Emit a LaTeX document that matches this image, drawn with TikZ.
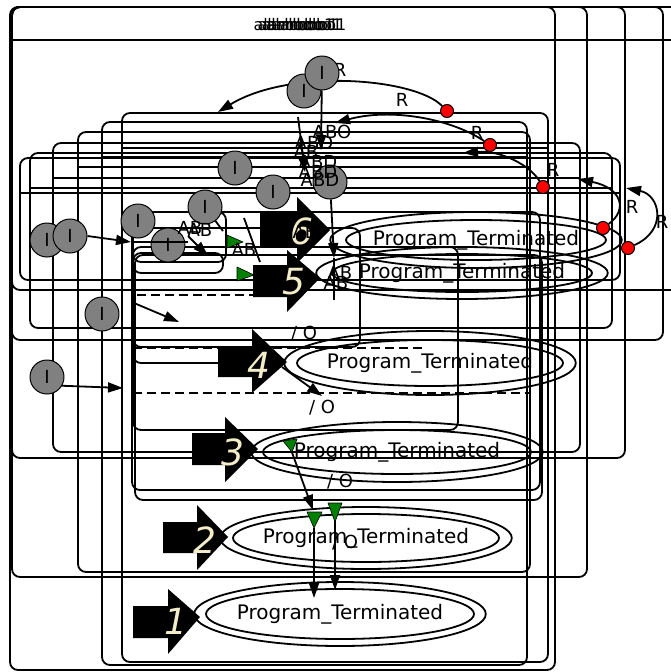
\documentclass[tikz,border=0pt]{standalone}
\usepackage{fontspec}
\setmainfont{DejaVu Sans}
\usetikzlibrary{shapes.geometric,arrows.meta}
\begin{document}
\begin{tikzpicture}[x=1pt,y=-1pt,line width=1.8pt,line join=round,
  box/.style={draw,rounded corners=8pt},
  ini/.style={circle,draw,line width=1pt,fill=gray,minimum size=34pt,inner sep=0pt,font=\fontsize{18}{18}\selectfont},
  cond/.style={circle,draw,line width=1pt,fill=red,minimum size=13pt,inner sep=0pt},
  arr/.style={-{Triangle[length=15pt,width=10pt]}},
  lab/.style={inner sep=0pt,font=\fontsize{18}{20}\selectfont},
  term/.style={ellipse,draw,inner sep=0pt,font=\fontsize{20}{24}\selectfont},
  num/.style={inner sep=0pt,text=numcol,font=\fontsize{36}{40}\selectfont\itshape},
  grn/.style={fill=green!50!black,draw=black,line width=0.6pt},
  dsh/.style={dash pattern=on 9pt off 5pt}]
\definecolor{numcol}{HTML}{F3ECC8}
\useasboundingbox (0,0) rectangle (671,672);
\fill[white] (0,0) rectangle (671,672);
\begin{scope}
\clip (0,0) rectangle (671,672);
% outer frames
\draw[box] (10,7) rectangle (555,670);
\draw[box] (12,7) rectangle (587,577);
\draw[box] (12,7) rectangle (625,458);
\draw[box] (12,7) rectangle (663,340);
\draw[box] (12,7) rectangle (700,290);
\draw (10,40) -- (671,40);
\foreach \dx in {0,4,8,12}{
  \node[inner sep=0pt,font=\fontsize{16}{18}\selectfont] (ttl\dx) at (294+\dx,25) {alarbobo1};
}
% inner frames
\draw[box] (122,113) rectangle (548,662); \draw (122,148) -- (548,148);
\draw[box] (102,122) rectangle (527,665); \draw (102,157) -- (527,157);
\draw[box] (78,132) rectangle (530,572);  \draw (78,167) -- (530,167);
\draw[box] (53,143) rectangle (580,452);  \draw (53,178) -- (580,178);
\draw[box] (30,153) rectangle (612,328);  \draw (30,188) -- (612,188);
\draw[box] (20,158) rectangle (620,280);  \draw (20,193) -- (620,193);
\draw[box] (132,212) rectangle (540,490);
\draw[box] (135,255) rectangle (542,500);
\draw[box] (133,247) rectangle (458,430);
\draw[box] (133,212) rectangle (226,262);
\draw[box] (133,253) rectangle (223,273);
\draw[box] (133,228) rectangle (360,347);
\draw[rounded corners=8pt] (133,320) -- (133,363) -- (220,363);
\draw[dsh] (137,295) -- (253,295);
\draw[dsh] (133,348) -- (425,348);
\draw[dsh] (133,393) -- (530,393);
% terminal states
\node[term,minimum width=284pt,minimum height=64pt] (t1) at (340,614) {Program\_Terminated};
\draw (t1.center) ellipse [x radius=134, y radius=25];
\node[term,minimum width=284pt,minimum height=62pt] (t2) at (366,538) {Program\_Terminated};
\draw (t2.center) ellipse [x radius=133, y radius=24];
\node[term,minimum width=280pt,minimum height=60pt] (t3) at (397,452) {Program\_Terminated};
\draw (t3.center) ellipse [x radius=134, y radius=22];
\node[term,minimum width=286pt,minimum height=64pt] (t4) at (430,363) {Program\_Terminated};
\draw (t4.center) ellipse [x radius=133, y radius=23];
\node[term,minimum width=280pt,minimum height=52pt] (t5) at (462,273) {Program\_Terminated};
\draw (t5.center) ellipse [x radius=130, y radius=19];
\node[term,minimum width=280pt,minimum height=56pt] (t6) at (476,240) {Program\_Terminated};
\draw (t6.center) ellipse [x radius=130, y radius=20];
% transitions (lower)
\coordinate (g3) at (290,447);
\coordinate (g4) at (314,528);
\coordinate (g5) at (335,520);
\coordinate (e1) at (314,598);
\coordinate (e2) at (335,590);
\coordinate (e3) at (313,510);
\draw[arr] (g4) -- (e1);
\draw[arr] (g5) -- (e2);
\draw[arr] (g3) -- (e3);
\coordinate (s4) at (282,367); \coordinate (e4) at (322,396);
\draw[arr] (s4) -- (e4);
\node[lab] (o1) at (345,543) {/ O};
\node[lab] (o2) at (340,482) {/ O};
\node[lab] (o3) at (322,408) {/ O};
\node[lab] (o4) at (304,334) {/ O};
% green triangles
\fill[grn] (307,512) -- (322,512) -- (314,528) -- cycle;
\fill[grn] (328,503) -- (342,503) -- (335,522) -- cycle;
\fill[grn] (283,441) -- (297,439) -- (292,452) -- cycle;
\fill[grn] (227,235) -- (227,248) -- (243,242) -- cycle;
\fill[grn] (237,267) -- (237,281) -- (254,275) -- cycle;
% fat numbered arrows
\fill (133,606) -- (168,606) -- (168,589) -- (200,617) -- (168,654) -- (168,638) -- (133,638) -- cycle;
\fill (163,522) -- (197,522) -- (197,505) -- (228,537) -- (197,570) -- (197,553) -- (163,553) -- cycle;
\fill (192,433) -- (225,433) -- (225,417) -- (258,449) -- (225,482) -- (225,465) -- (192,465) -- cycle;
\fill (218,346) -- (252,346) -- (252,329) -- (287,362) -- (252,393) -- (252,377) -- (218,377) -- cycle;
\fill (253,265) -- (287,265) -- (287,250) -- (320,278) -- (287,312) -- (287,297) -- (253,297) -- cycle;
\fill (260,213) -- (297,213) -- (297,197) -- (330,230) -- (297,263) -- (297,247) -- (260,247) -- cycle;
\node[num] (n1) at (176,621) {1};
\node[num] (n2) at (205,540) {2};
\node[num] (n3) at (233,452) {3};
\node[num] (n4) at (259,365) {4};
\node[num] (n5) at (294,282) {5};
\node[num] (n6) at (302,231) {6};
% upper transitions
\node[cond] (r1) at (447,111) {};
\node[cond] (r2) at (490,145) {};
\node[cond] (r3) at (543,187) {};
\node[cond] (r4) at (603,228) {};
\node[cond] (r5) at (628,248) {};
\coordinate (q1) at (218,112);
\coordinate (q2) at (335,123);
\coordinate (q3) at (463,153);
\coordinate (q4) at (578,179);
\coordinate (q5) at (626,188);
\draw[arr] (r1) .. controls (415,78) and (290,68) .. (q1);
\draw[arr] (r2) .. controls (450,118) and (390,108) .. (q2);
\draw[arr] (r3) .. controls (530,165) and (500,150) .. (q3);
\draw[arr] (r4) .. controls (628,210) and (622,188) .. (q4);
\draw[arr] (r5) .. controls (668,230) and (660,195) .. (q5);
\node[lab] (lr1) at (402,100) {R};
\node[lab] (lr0) at (340,70) {R};
\node[lab] (lr2) at (477,133) {R};
\node[lab] (lr3) at (553,170) {R};
\node[lab] (lr4) at (632,207) {R};
\node[lab] (lr5) at (662,222) {R};
% initial states
\node[ini] (i2) at (304,91) {I};
\node[ini] (i1) at (322,73) {I};
\node[ini] (i3) at (47,240) {I};
\node[ini] (i4) at (70,236) {I};
\node[ini] (i5) at (138,221) {I};
\node[ini] (i6) at (168,245) {I};
\node[ini] (i7) at (205,207) {I};
\node[ini] (i8) at (235,168) {I};
\node[ini] (i9) at (273,192) {I};
\node[ini] (i10) at (330,182) {};
\node[ini] (i11) at (102,314) {I};
\node[ini] (i12) at (47,377) {I};
\coordinate (p1) at (321,150);
\coordinate (p2a) at (298,117);
\coordinate (p2) at (305,172);
\draw[arr] (i1) -- (p1);
\draw[arr] (p2a) -- (p2);
\coordinate (p10) at (334,258);
\coordinate (p10b) at (334,300);
\draw[arr] (i10) -- (p10);
\draw (p10) -- (p10b);
\coordinate (p4) at (131,242);
\draw[arr] (i4.east) -- (p4);
\coordinate (p4b) at (188,242);
\draw (p4) -- (p4b);
\coordinate (p6a) at (188,236);
\coordinate (p6) at (208,256);
\draw[arr] (p6a) -- (p6);
\coordinate (p7) at (223,231);
\draw (i7) -- (p7);
\coordinate (p8a) at (244,218); \coordinate (p8) at (260,262);
\draw (p8a) -- (p8);
\coordinate (p12) at (123,388);
\draw[arr] (i12.-30) -- (p12);
\coordinate (p11a) at (134,303); \coordinate (p11) at (179,322);
\draw[arr] (p11a) -- (p11);
% state labels
\node[lab] (ab1) at (200,230) {AB};
\node[lab] (ab2) at (190,228) {AB};
\node[lab] (ab3) at (244,250) {AB};
\node[lab] (ab4) at (340,273) {AB};
\node[lab] (ab5) at (336,283) {AB};
\node[lab] (ab6) at (305,232) {AB};
\node[lab] (tA) at (332,132) {ABO};
\node[lab] (tB) at (314,143) {ABD};
\node[lab] (tC) at (306,152) {AB};
\node[lab] (tD) at (318,162) {ABD};
\node[lab] (tE) at (318,172) {ABD};
\node[lab] (tF) at (320,180) {ABD};
\end{scope}
\end{tikzpicture}
\end{document}
